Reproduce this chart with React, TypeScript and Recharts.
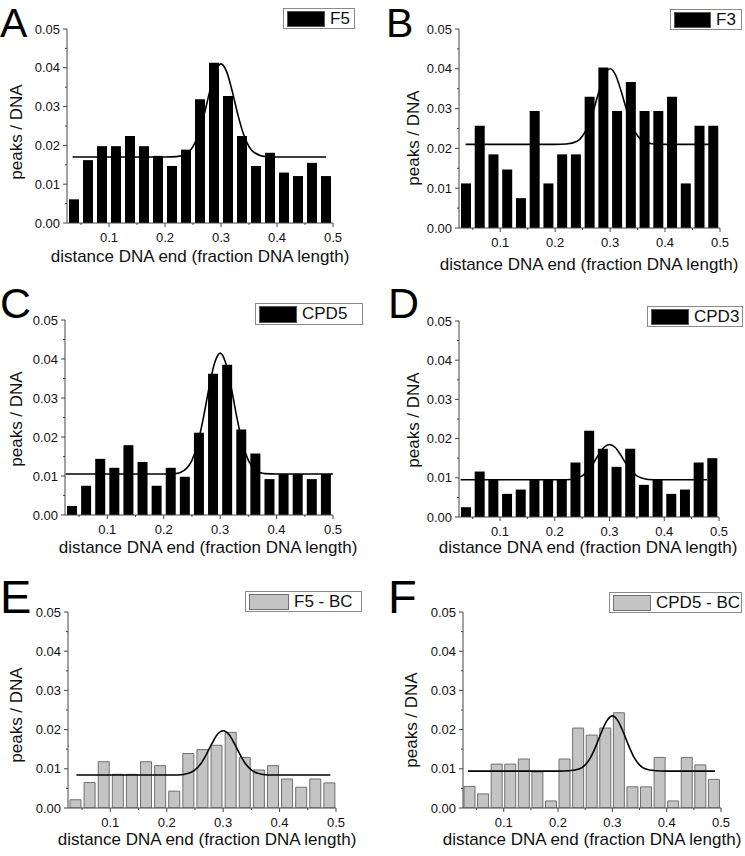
import React from "react";
import { ComposedChart, Bar, Line, XAxis, YAxis } from "recharts";

// ---- data ----
const binCenters = [0.0375, 0.0625, 0.0875, 0.1125, 0.1375, 0.1625, 0.1875, 0.2125, 0.2375, 0.2625, 0.2875, 0.3125, 0.3375, 0.3625, 0.3875, 0.4125, 0.4375, 0.4625, 0.4875];

const valuesF5 = [0.0061, 0.0162, 0.0198, 0.0198, 0.0224, 0.0198, 0.0173, 0.0147, 0.0189, 0.0319, 0.0413, 0.0327, 0.0224, 0.0147, 0.0181, 0.013, 0.0121, 0.0155, 0.0121];
const valuesF3 = [0.0112, 0.0257, 0.0185, 0.0147, 0.0075, 0.0294, 0.0112, 0.0185, 0.0185, 0.033, 0.0403, 0.0294, 0.0367, 0.0294, 0.0294, 0.033, 0.0112, 0.0257, 0.0257];
const valuesCPD5 = [0.0023, 0.0075, 0.0144, 0.0121, 0.0179, 0.0136, 0.0075, 0.0121, 0.0098, 0.0211, 0.0362, 0.0385, 0.0219, 0.0158, 0.0092, 0.0105, 0.0105, 0.0092, 0.0105];
const valuesCPD3 = [0.0025, 0.0116, 0.0097, 0.0059, 0.007, 0.0097, 0.0097, 0.0097, 0.0139, 0.022, 0.0174, 0.0128, 0.0174, 0.0082, 0.0097, 0.0059, 0.007, 0.0139, 0.015];
const valuesF5BC = [0.0021, 0.0065, 0.0118, 0.0086, 0.0086, 0.0118, 0.0108, 0.0043, 0.0139, 0.0149, 0.016, 0.0193, 0.0129, 0.0097, 0.0108, 0.0074, 0.0053, 0.0074, 0.0064];
const valuesCPD5BC = [0.0055, 0.0036, 0.0112, 0.0112, 0.0125, 0.0092, 0.0018, 0.0125, 0.0204, 0.0186, 0.0204, 0.0243, 0.0054, 0.0054, 0.0129, 0.0018, 0.0129, 0.011, 0.0073];

// fitted curve sample points
const fitCoreX = [0.2, 0.22, 0.24, 0.25, 0.26, 0.27, 0.28, 0.29, 0.3, 0.31, 0.32, 0.33, 0.34, 0.35, 0.36, 0.38, 0.4];
const fitXA = [0.035, ...fitCoreX, 0.4875];
const fitXB = [0.037, ...fitCoreX, 0.481];
const fitXC = [0.026, ...fitCoreX, 0.5];
const fitXD = [0.028, ...fitCoreX, 0.478];
const fitXE = [0.04, ...fitCoreX, 0.49];
const fitXF = [0.034, ...fitCoreX, 0.489];

const fitYA = [0.017, 0.017, 0.0171, 0.0181, 0.0197, 0.023, 0.028, 0.034, 0.039, 0.041, 0.039, 0.034, 0.028, 0.023, 0.0197, 0.0181, 0.0171, 0.017, 0.017];
const fitYB = [0.021, 0.021, 0.0211, 0.0218, 0.0232, 0.0257, 0.0297, 0.0344, 0.0384, 0.04, 0.0384, 0.0344, 0.0297, 0.0257, 0.0232, 0.0218, 0.0211, 0.021, 0.021];
const fitYC = [0.0105, 0.0105, 0.0106, 0.0119, 0.014, 0.0182, 0.0247, 0.0324, 0.0389, 0.0415, 0.0389, 0.0324, 0.0247, 0.0182, 0.014, 0.0119, 0.0106, 0.0105, 0.0105];
const fitYD = [0.0095, 0.0095, 0.0095, 0.0099, 0.0105, 0.0117, 0.0136, 0.0159, 0.0178, 0.0185, 0.0178, 0.0159, 0.0136, 0.0117, 0.0105, 0.0099, 0.0095, 0.0095, 0.0095];
const fitYE = [0.0084, 0.0084, 0.0084, 0.0089, 0.0097, 0.0112, 0.0136, 0.0164, 0.0188, 0.0197, 0.0188, 0.0164, 0.0136, 0.0112, 0.0097, 0.0089, 0.0084, 0.0084, 0.0084];
const fitYF = [0.0094, 0.0094, 0.0095, 0.01, 0.011, 0.0129, 0.0159, 0.0194, 0.0223, 0.0235, 0.0223, 0.0194, 0.0159, 0.0129, 0.011, 0.01, 0.0095, 0.0094, 0.0094];

const xTicks = [0.05, 0.1, 0.15, 0.2, 0.25, 0.3, 0.35, 0.4, 0.45, 0.5];
const yTicks = [0, 0.005, 0.01, 0.015, 0.02, 0.025, 0.03, 0.035, 0.04, 0.045, 0.05];

const xTitle = "distance DNA end (fraction DNA length)";
const yTitle = "peaks / DNA";

// ---- layout ----
const FONT = "'Liberation Sans', Arial, Helvetica, sans-serif";
const AX = "#444";

const panels = [
  { letter: "A", name: "F5", values: valuesF5, fx: fitXA, fy: fitYA, gray: false,
    cell: { x: 0, y: 0, w: 373, h: 285 }, margin: { top: 29, right: 40, bottom: 62, left: 67 },
    letterPos: { x: 0, y: 37, size: 41 }, yt: { x: 17, y: 132 }, xt: { x: 200, y: 257 },
    legend: { x: 283, y: 8, w: 72, h: 21, sw: 38 } },
  { letter: "B", name: "F3", values: valuesF3, fx: fitXB, fy: fitYB, gray: false,
    cell: { x: 372, y: 0, w: 373, h: 285 }, margin: { top: 29, right: 25, bottom: 57, left: 87 },
    letterPos: { x: 386, y: 37, size: 41 }, yt: { x: 42, y: 138 }, xt: { x: 217, y: 265 },
    legend: { x: 298, y: 9, w: 72, h: 21, sw: 37 } },
  { letter: "C", name: "CPD5", values: valuesCPD5, fx: fitXC, fy: fitYC, gray: false,
    cell: { x: 0, y: 285, w: 373, h: 285 }, margin: { top: 35, right: 40, bottom: 55, left: 65 },
    letterPos: { x: 0, y: 318, size: 43 }, yt: { x: 17, y: 134 }, xt: { x: 208, y: 263 },
    legend: { x: 255, y: 18, w: 108, h: 22, sw: 38 } },
  { letter: "D", name: "CPD3", values: valuesCPD3, fx: fitXD, fy: fitYD, gray: false,
    cell: { x: 372, y: 285, w: 373, h: 285 }, margin: { top: 36, right: 26, bottom: 53, left: 87 },
    letterPos: { x: 388, y: 318, size: 43 }, yt: { x: 42, y: 135 }, xt: { x: 216, y: 263 },
    legend: { x: 275, y: 21, w: 96, h: 21, sw: 38 } },
  { letter: "E", name: "F5 - BC", values: valuesF5BC, fx: fitXE, fy: fitYE, gray: true,
    cell: { x: 0, y: 570, w: 373, h: 286 }, margin: { top: 42, right: 37, bottom: 48, left: 68 },
    letterPos: { x: 0, y: 612, size: 47 }, yt: { x: 17, y: 145 }, xt: { x: 207, y: 270 },
    legend: { x: 245, y: 21, w: 117, h: 21, sw: 40 } },
  { letter: "F", name: "CPD5 - BC", values: valuesCPD5BC, fx: fitXF, fy: fitYF, gray: true,
    cell: { x: 372, y: 570, w: 373, h: 286 }, margin: { top: 42, right: 24, bottom: 48, left: 91 },
    letterPos: { x: 388, y: 612, size: 47 }, yt: { x: 40, y: 150 }, xt: { x: 220, y: 270 },
    legend: { x: 237, y: 22, w: 133, h: 21, sw: 38 } },
];

const isMultiple = (v: number, k: number) => Math.abs(v * k - Math.round(v * k)) < 1e-6;

const XTick = (props: any) => {
  const { x, y, payload } = props;
  const v = payload.value as number;
  const major = isMultiple(v, 10);
  return (
    <g>
      <line x1={x} y1={y} x2={x} y2={y + (major ? 4 : 2)} stroke={AX} strokeWidth={1} />
      {major && (
        <text x={x} y={y + 18.5} textAnchor="middle" fontSize={13} fill="#111" fontFamily={FONT}>
          {v.toFixed(1)}
        </text>
      )}
    </g>
  );
};

const YTick = (props: any) => {
  const { x, y, payload } = props;
  const v = payload.value as number;
  const major = isMultiple(v, 100);
  return (
    <g>
      <line x1={x - (major ? 4 : 2)} y1={y} x2={x} y2={y} stroke={AX} strokeWidth={1} />
      {major && (
        <text x={x - 7} y={y + 4.5} textAnchor="end" fontSize={13} fill="#111" fontFamily={FONT}>
          {v.toFixed(2)}
        </text>
      )}
    </g>
  );
};

const Panel = ({ p }: { p: (typeof panels)[number] }) => {
  const data = binCenters.map((x, i) => ({ x, y: p.values[i] }));
  const fit = p.fx.map((x, i) => ({ x, fit: p.fy[i] }));
  const m = { top: p.margin.top, right: p.margin.right, bottom: p.margin.bottom - 1, left: p.margin.left - 1 };
  return (
    <div style={{ position: "absolute", left: p.cell.x, top: p.cell.y, width: p.cell.w, height: p.cell.h }}>
      <ComposedChart width={p.cell.w} height={p.cell.h} data={data} margin={m}>
        <XAxis
          xAxisId="bars"
          dataKey="x"
          type="number"
          domain={[0.025, 0.5]}
          allowDataOverflow
          ticks={xTicks}
          interval={0}
          height={1}
          tickSize={0}
          tickMargin={0}
          tickLine={false}
          axisLine={{ stroke: AX, strokeWidth: 1 }}
          tick={<XTick />}
        />
        <XAxis
          xAxisId="fit"
          dataKey="x"
          type="number"
          domain={[0.025, 0.5]}
          allowDataOverflow
          hide
        />
        <YAxis
          type="number"
          domain={[0, 0.05]}
          allowDataOverflow
          ticks={yTicks}
          interval={0}
          width={1}
          tickSize={0}
          tickMargin={0}
          tickLine={false}
          axisLine={{ stroke: AX, strokeWidth: 1 }}
          tick={<YTick />}
        />
        <Bar
          xAxisId="bars"
          dataKey="y"
          barSize={p.gray ? 11 : 10}
          fill={p.gray ? "#c4c4c4" : "#000"}
          stroke={p.gray ? "#707070" : "none"}
          strokeWidth={1}
          isAnimationActive={false}
        />
        <Line
          xAxisId="fit"
          data={fit}
          dataKey="fit"
          type="monotone"
          stroke="#000"
          strokeWidth={1.6}
          dot={false}
          activeDot={false}
          isAnimationActive={false}
        />
      </ComposedChart>
      {/* y title */}
      <div
        style={{
          position: "absolute",
          left: p.yt.x,
          top: p.yt.y,
          transform: "translate(-50%, -50%) rotate(-90deg)",
          fontSize: 17,
          fontFamily: FONT,
          whiteSpace: "nowrap",
          color: "#111",
        }}
      >
        {yTitle}
      </div>
      {/* x title */}
      <div
        style={{
          position: "absolute",
          left: p.xt.x,
          top: p.xt.y,
          transform: "translate(-50%, -50%)",
          fontSize: 17,
          fontFamily: FONT,
          whiteSpace: "nowrap",
          color: "#111",
        }}
      >
        {xTitle}
      </div>
      {/* legend */}
      <div
        style={{
          position: "absolute",
          left: p.legend.x,
          top: p.legend.y,
          width: p.legend.w,
          height: p.legend.h,
          boxSizing: "border-box",
          border: "1px solid #8a8a8a",
          background: "#fff",
          display: "flex",
          alignItems: "center",
          fontFamily: FONT,
          fontSize: 17,
          color: "#111",
        }}
      >
        <div
          style={{
            marginLeft: 3,
            width: p.legend.sw,
            height: p.legend.h - 5,
            boxSizing: "border-box",
            background: p.gray ? "#c4c4c4" : "#000",
            border: p.gray ? "1px solid #707070" : "1px solid #555",
          }}
        />
        <span style={{ marginLeft: 5, whiteSpace: "nowrap" }}>{p.name}</span>
      </div>
    </div>
  );
};

export default function App() {
  return (
    <div style={{ position: "absolute", left: 0, top: 0, width: 745, height: 856, background: "#fff", overflow: "hidden" }}>
      {panels.map((p) => (
        <Panel key={p.letter} p={p} />
      ))}
      {panels.map((p) => (
        <div
          key={"L" + p.letter}
          style={{
            position: "absolute",
            left: p.letterPos.x,
            top: p.letterPos.y - p.letterPos.size * 0.905,
            fontSize: p.letterPos.size,
            lineHeight: "normal",
            fontFamily: FONT,
            color: "#000",
            whiteSpace: "nowrap",
          }}
        >
          <span style={{ lineHeight: 1.117, display: "inline-block" }}>{p.letter}</span>
        </div>
      ))}
    </div>
  );
}
